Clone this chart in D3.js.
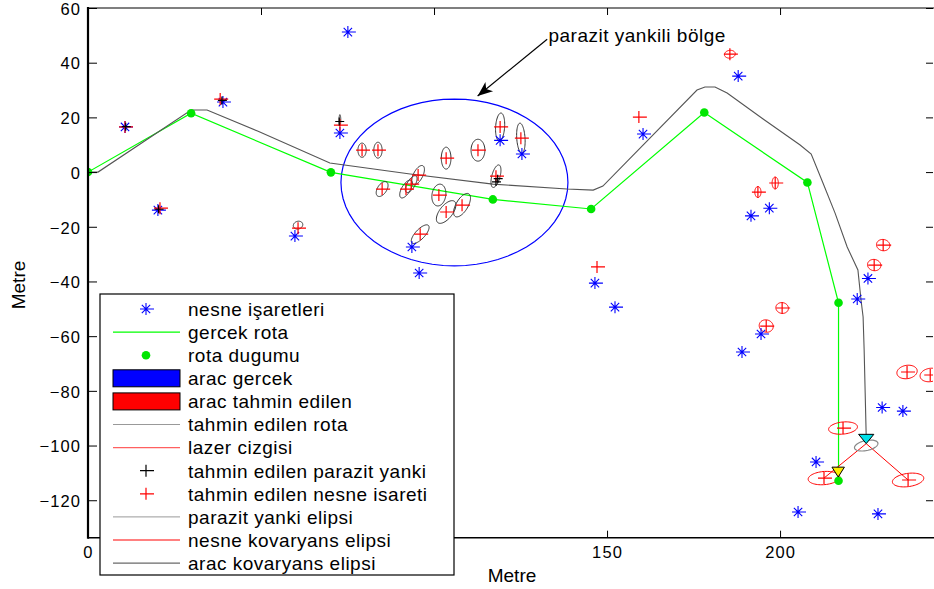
<!DOCTYPE html>
<html>
<head>
<meta charset="utf-8">
<script src="https://cdn.jsdelivr.net/npm/d3@7"></script>
<style>
  body { margin: 0; background: #fff; }
  text { font-family: "Liberation Sans", Arial, sans-serif; fill: #000; }
</style>
</head>
<body>
<svg id="chart" width="934" height="589"></svg>
<script>
// ---- data (metres) ----
const xTicks = [0, 50, 100, 150, 200];
const yTicks = [-120, -100, -80, -60, -40, -20, 0, 20, 40, 60];
const xLabeled = [0, 150, 200];

// waypoints of the true route
const trueRoute = [[0, 0], [29.8, 21.5], [70.2, -0.1], [117, -10], [145.4, -13.5],
  [178.1, 21.8], [207.9, -3.8], [216.9, -47.8], [216.9, -112.9]];

// estimated vehicle trajectory
const estRoute = [[0, 0], [2.9, 0], [29.8, 22.7], [34.4, 22.7], [49, 15], [69.9, 3.3],
  [93.1, -0.7], [117, -4.4], [138.4, -6.2], [146, -6.6], [148.8, -5.1], [176, 30],
  [178.3, 31.1], [181.2, 31.1], [184.7, 28.9], [195.1, 19.4], [205.8, 9.9], [209, 6.6],
  [212.4, -4], [215.9, -15], [219.4, -27.4], [222.5, -35.8], [223.4, -46.8], [224, -53],
  [224.3, -65], [224.6, -80.8], [224.9, -96.9]];

// true landmark positions
const landmarks = [[10.7, 16.5], [20.2, -13.9], [39, 25.6], [59.8, -23.4], [75.1, 51.2],
  [72.8, 14.3], [93.6, -27.4], [95.7, -36.9], [119.1, 11.6], [125.4, 6.6], [146.5, -40.6],
  [152.3, -49.4], [160.4, 13.9], [187.9, 35.1], [191.6, -16], [196.9, -13.2], [225.4, -38.9],
  [222.3, -46.4], [189, -65.8], [194.5, -59.2], [229.5, -86.1], [235.5, -87.4],
  [210.4, -106], [205.2, -124.3], [228.3, -125]];

// estimated landmark positions
const landmarkEst = [[10.7, 16.5], [20.8, -13.2], [38.2, 26.7], [60.7, -20.5], [72.8, 17.2],
  [147.1, -34.7], [159.2, 20.1], [185.5, 43.1], [193.6, -7.3], [198.6, -4.0], [229.8, -26.7],
  [227.2, -34.0], [196, -56.3], [200.6, -49.7], [236.7, -73.1], [243.4, -74.2],
  [218.2, -93.6], [212.7, -111.9], [237, -112.6],
  [79.2, 8.0], [83.8, 8.0], [103.5, 5.1], [112.7, 8.0], [119.1, 16.5], [125.1, 12.4],
  [95.4, -1.1], [85.0, -6.2], [91.9, -6.2], [93.4, -4.4], [101.4, -8.4], [103.5, -14.6],
  [108.1, -12.1], [96.0, -22.7], [117.9, -1.5]];

// landmark covariance ellipses: [cx, cy, a, b, angle(rad)]
const landmarkCov = [[185.5, 43.1, 1.6, 1.4, 0.4], [193.6, -7.3, 0.9, 2.0, 0], [198.6, -4.0, 0.9, 2.2, 0],
  [229.8, -26.7, 1.9, 2.1, 0.4], [227.2, -34.0, 1.9, 2.1, 0.4], [196, -56.3, 2.0, 2.3, 0.3],
  [200.6, -49.7, 1.8, 2.0, 0.3], [236.7, -73.1, 3.0, 2.4, 0.35], [243.4, -74.2, 3.0, 2.4, 0.35],
  [218.2, -93.6, 4.2, 2.2, 0.15], [212.7, -111.9, 4.6, 2.4, 0.12], [237, -112.6, 4.6, 2.4, 0.2]];

// clutter estimates and their ellipses
const clutterEst = [[117.9, -3.6], [118.4, -2.4], [72.6, 18.5], [10.9, 16.6], [20.4, -13.6], [38.7, 26.2]];
const clutterCov = [[79.2, 8.0, 1.2, 2.6, 0], [83.8, 8.0, 1.2, 2.9, 0], [103.5, 5.1, 1.4, 4.0, 0],
  [112.7, 8.0, 2.0, 4.0, 0], [119.1, 16.5, 1.3, 5.1, -0.05], [125.1, 12.4, 1.2, 5.5, 0.05],
  [95.4, -1.1, 1.4, 3.7, -0.35], [85.0, -6.2, 1.4, 2.9, -0.4], [91.9, -6.2, 1.3, 3.5, -0.4],
  [93.4, -4.4, 1.2, 3.3, -0.4], [101.4, -8.4, 2.0, 4.0, -0.1], [103.5, -14.6, 2.0, 4.6, -0.5],
  [108.1, -12.1, 1.8, 4.6, -0.4], [96.0, -22.7, 1.5, 4.0, -0.6], [117.9, -1.5, 1.2, 4.2, -0.2],
  [60.7, -19.4, 1.3, 1.5, -0.6], [72.8, 19, 0.25, 2.0, 0]];

// clutter region outline [cx, cy, rx, ry]
const clutterRegion = [105.9, -3.8, 32.8, 30.5];

// vehicle poses [x, y, heading(deg)]
const vehTrue = [216.8, -111.5, -90];
const vehEst = [224.9, -99.3, -90];
const vehCov = [224.9, -100, 3.5, 1.8, 0.3];
const laserTargets = [[212.7, -111.9], [237, -112.6]];

const legendLabels = ["nesne işaretleri", "gercek rota", "rota dugumu", "arac gercek",
  "arac tahmin edilen", "tahmin edilen rota", "lazer cizgisi", "tahmin edilen parazit yanki",
  "tahmin edilen nesne isareti", "parazit yanki elipsi", "nesne kovaryans elipsi",
  "arac kovaryans elipsi"];

// ---- layout ----
const svg = d3.select("#chart");
const L = 88, R = 933, T = 8, B = 537.7;
const x = d3.scaleLinear().domain([0, 244.2]).range([L, R]);
const y = d3.scaleLinear().domain([-133.7, 60]).range([B, T]);

svg.append("defs").append("clipPath").attr("id", "plot")
  .append("rect").attr("x", L).attr("y", T).attr("width", R - L).attr("height", B - T);

const plot = svg.append("g").attr("clip-path", "url(#plot)");
const line = d3.line().x(d => x(d[0])).y(d => y(d[1]));

function ellipsePts(cx, cy, a, b, th) {
  return d3.range(0, 65).map(i => {
    const t = i / 64 * 2 * Math.PI;
    const ex = a * Math.cos(t), ey = b * Math.sin(t);
    return [cx + ex * Math.cos(th) - ey * Math.sin(th), cy + ex * Math.sin(th) + ey * Math.cos(th)];
  });
}
const starPath = "M-6,0H8M0,-6V6M-4.2,-4.2L4.2,4.2M-4.2,4.2L4.2,-4.2";
const plusPath = "M-6,0H8M0,-6V6";

// clutter region
plot.append("path").attr("d", line(ellipsePts(clutterRegion[0], clutterRegion[1], clutterRegion[2], clutterRegion[3], 0)))
  .attr("fill", "none").attr("stroke", "#0000ff").attr("stroke-width", 1.2);

// true route
plot.append("path").attr("d", line(trueRoute)).attr("fill", "none")
  .attr("stroke", "#00ff00").attr("stroke-width", 1.2);

// estimated route
plot.append("path").attr("d", line(estRoute)).attr("fill", "none")
  .attr("stroke", "#555").attr("stroke-width", 1.1);

// clutter ellipses
plot.selectAll(".cc").data(clutterCov).join("path").attr("class", "cc")
  .attr("d", d => line(ellipsePts(...d))).attr("fill", "none")
  .attr("stroke", "#333").attr("stroke-width", 1);

// landmark covariance ellipses
plot.selectAll(".lc").data(landmarkCov).join("path").attr("class", "lc")
  .attr("d", d => line(ellipsePts(...d))).attr("fill", "none")
  .attr("stroke", "#ff0000").attr("stroke-width", 1);

// landmarks
plot.selectAll(".lm").data(landmarks).join("path").attr("class", "lm")
  .attr("transform", d => `translate(${x(d[0])},${y(d[1])})`)
  .attr("d", starPath).attr("fill", "none").attr("stroke", "#0000ff").attr("stroke-width", 1.1);

// estimated landmarks
plot.selectAll(".le").data(landmarkEst).join("path").attr("class", "le")
  .attr("transform", d => `translate(${x(d[0])},${y(d[1])})`)
  .attr("d", plusPath).attr("fill", "none").attr("stroke", "#ff0000").attr("stroke-width", 1.2);

// clutter estimates
plot.selectAll(".ce").data(clutterEst).join("path").attr("class", "ce")
  .attr("transform", d => `translate(${x(d[0])},${y(d[1])})`)
  .attr("d", "M-4,0H5M0,-4V4").attr("fill", "none").attr("stroke", "#000").attr("stroke-width", 1.2);

// route nodes
plot.selectAll(".nd").data(trueRoute).join("circle").attr("class", "nd")
  .attr("cx", d => x(d[0])).attr("cy", d => y(d[1])).attr("r", 4.3).attr("fill", "#00e600");

// laser lines
plot.selectAll(".ls").data(laserTargets).join("line").attr("class", "ls")
  .attr("x1", x(vehEst[0])).attr("y1", y(vehEst[1]))
  .attr("x2", d => x(d[0])).attr("y2", d => y(d[1]))
  .attr("stroke", "#ff0000").attr("stroke-width", 1);

// vehicle covariance
plot.append("path").attr("d", line(ellipsePts(...vehCov))).attr("fill", "none")
  .attr("stroke", "#888").attr("stroke-width", 1.2);

// vehicles
function tri(p, len, half) {
  const h = p[2] * Math.PI / 180, c = Math.cos(h), s = Math.sin(h);
  const bx = p[0] - len * c, by = p[1] - len * s;
  return [[p[0], p[1]], [bx - half * s, by + half * c], [bx + half * s, by - half * c], [p[0], p[1]]];
}
plot.append("path").attr("d", line(tri(vehTrue, 3.6, 1.8)) + "Z")
  .attr("fill", "#ffee00").attr("stroke", "#000").attr("stroke-width", 1);
plot.append("path").attr("d", line(tri(vehEst, 3.4, 2.2)) + "Z")
  .attr("fill", "#00e0e8").attr("stroke", "#000").attr("stroke-width", 1);

// ---- axes ----
const axes = svg.append("g");
const axLeft = axes.append("g").attr("transform", `translate(${L},0)`)
  .call(d3.axisLeft(y).tickValues(yTicks).tickSize(-9).tickPadding(7).tickFormat(d3.format("d")));
const axBottom = axes.append("g").attr("transform", `translate(0,${B})`)
  .call(d3.axisBottom(x).tickValues(xTicks).tickSize(-7).tickPadding(9)
    .tickFormat(d => xLabeled.includes(d) ? d : ""));
const axTop = axes.append("g").attr("transform", `translate(0,${T})`)
  .call(d3.axisTop(x).tickValues(xTicks).tickSize(-7).tickFormat(""));
const axRight = axes.append("g").attr("transform", `translate(${R},0)`)
  .call(d3.axisRight(y).tickValues(yTicks).tickSize(-7).tickFormat(""));
[axLeft, axBottom, axTop, axRight].forEach(g => {
  g.attr("font-size", null).attr("font-family", null);
  g.select(".domain").remove();
  g.selectAll("text").style("font-family", "'Liberation Sans', Arial, sans-serif")
    .style("font-size", "16.5px").style("letter-spacing", "1.1px").attr("fill", "#000");
  g.selectAll("line").attr("stroke", "#000");
});
axLeft.selectAll("text").attr("dy", "0.38em");
svg.append("line").attr("x1", L).attr("x2", L).attr("y1", T - 1).attr("y2", B + 1)
  .attr("stroke", "#000").attr("stroke-width", 2.2);
svg.append("line").attr("x1", L).attr("x2", R + 2).attr("y1", B).attr("y2", B)
  .attr("stroke", "#000").attr("stroke-width", 1.6);
svg.append("line").attr("x1", L).attr("x2", R + 2).attr("y1", T).attr("y2", T)
  .attr("stroke", "#000").attr("stroke-width", 1.2);

svg.append("text").attr("x", 512).attr("y", 582).attr("text-anchor", "middle")
  .attr("font-size", 19).text("Metre");
svg.append("text").attr("transform", "translate(25,285) rotate(-90)").attr("text-anchor", "middle")
  .attr("font-size", 19).text("Metre");

// ---- annotation ----
const arrowFrom = [132.7, 48.6], arrowTo = [112.6, 27.8];
const ax0 = x(arrowFrom[0]), ay0 = y(arrowFrom[1]), ax1 = x(arrowTo[0]), ay1 = y(arrowTo[1]);
const ang = Math.atan2(ay1 - ay0, ax1 - ax0);
svg.append("line").attr("x1", ax0).attr("y1", ay0).attr("x2", ax1).attr("y2", ay1)
  .attr("stroke", "#000").attr("stroke-width", 1.2);
svg.append("path")
  .attr("d", "M0,0L-15,-6L-11,0L-15,6Z")
  .attr("transform", `translate(${ax1},${ay1}) rotate(${ang * 180 / Math.PI})`)
  .attr("fill", "#000");
svg.append("text").attr("x", x(158.7)).attr("y", y(47.7)).attr("text-anchor", "middle")
  .attr("font-size", 19).attr("letter-spacing", 0.5).text("parazit yankili bölge");

// ---- legend ----
const lg = svg.append("g");
lg.append("rect").attr("x", 100).attr("y", 294).attr("width", 354).attr("height", 281)
  .attr("fill", "#fff").attr("stroke", "#000").attr("stroke-width", 1.2);
const rowY = i => 309 + i * 23.1;
const sx0 = 113, sx1 = 180, smid = 146;
legendLabels.forEach((lab, i) => {
  const cy = rowY(i);
  const g = lg.append("g");
  if (i === 0) g.append("path").attr("transform", `translate(${smid},${cy})`).attr("d", starPath)
    .attr("fill", "none").attr("stroke", "#0000ff").attr("stroke-width", 1.1);
  if (i === 1) g.append("line").attr("x1", sx0).attr("x2", sx1).attr("y1", cy).attr("y2", cy)
    .attr("stroke", "#00ff00").attr("stroke-width", 1.2);
  if (i === 2) g.append("circle").attr("cx", smid).attr("cy", cy).attr("r", 4.3).attr("fill", "#00e600");
  if (i === 3 || i === 4) g.append("rect").attr("x", sx0).attr("y", cy - 8.5).attr("width", sx1 - sx0)
    .attr("height", 17).attr("fill", i === 3 ? "#0000ff" : "#ff0000").attr("stroke", "#000");
  if (i === 5 || i === 9) g.append("line").attr("x1", sx0).attr("x2", sx1).attr("y1", cy).attr("y2", cy)
    .attr("stroke", "#999").attr("stroke-width", 1);
  if (i === 6) g.append("line").attr("x1", sx0).attr("x2", sx1).attr("y1", cy).attr("y2", cy)
    .attr("stroke", "#ff6060").attr("stroke-width", 1.2);
  if (i === 10) g.append("line").attr("x1", sx0).attr("x2", sx1).attr("y1", cy).attr("y2", cy)
    .attr("stroke", "#ff8080").attr("stroke-width", 2);
  if (i === 11) g.append("line").attr("x1", sx0).attr("x2", sx1).attr("y1", cy).attr("y2", cy)
    .attr("stroke", "#444").attr("stroke-width", 1);
  if (i === 7 || i === 8) g.append("path").attr("transform", `translate(${smid},${cy})`).attr("d", plusPath)
    .attr("fill", "none").attr("stroke", i === 7 ? "#000" : "#ff0000").attr("stroke-width", 1.2);
  g.append("text").attr("x", 188).attr("y", cy).attr("dy", "0.36em").attr("font-size", 19)
    .attr("letter-spacing", 0.5).text(lab);
});
</script>
</body>
</html>
